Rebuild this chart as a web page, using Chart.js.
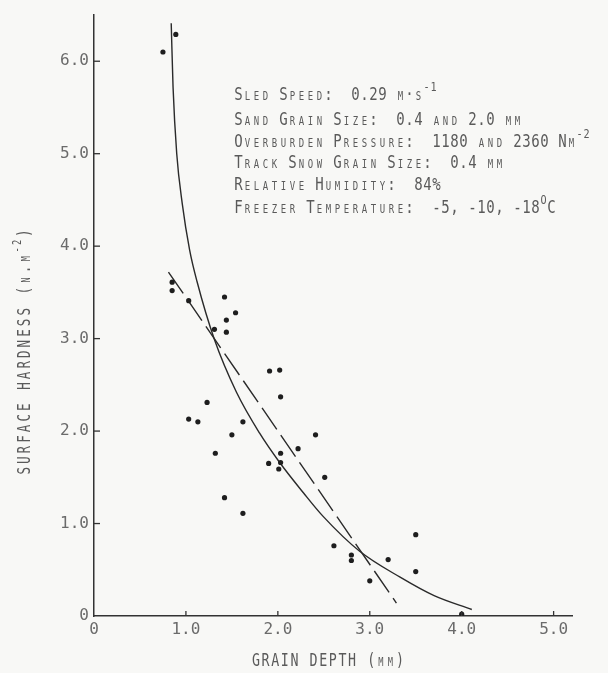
<!DOCTYPE html>
<html><head><meta charset="utf-8">
<script src="https://cdn.jsdelivr.net/npm/chart.js@4.4.1/dist/chart.umd.min.js"></script>
<style>html,body{margin:0;padding:0;background:#f8f8f6}#wrap{width:608px;height:673px;position:relative}</style>
</head><body><div id="wrap"><canvas id="c"></canvas></div>
<script>
// ---- data ----
const pointsX = [0.75,0.89,0.85,0.85,1.03,1.42,1.54,1.44,1.31,1.44,1.91,2.02,2.03,1.23,1.03,1.13,1.62,1.50,2.41,2.22,1.32,2.03,1.90,2.03,2.01,2.51,1.42,1.62,2.61,2.80,2.80,3.20,3.50,3.50,3.00,4.00];
const pointsY = [6.10,6.29,3.61,3.52,3.41,3.45,3.28,3.20,3.10,3.07,2.65,2.66,2.37,2.31,2.13,2.10,2.10,1.96,1.96,1.81,1.76,1.76,1.65,1.66,1.59,1.50,1.28,1.11,0.76,0.66,0.60,0.61,0.88,0.48,0.38,0.02];
const curveX = [0.84,0.86,0.90,0.96,1.04,1.12,1.31,1.55,1.80,2.02,2.28,2.49,2.89,3.33,3.70,4.11];
const curveY = [6.41,5.72,5.00,4.46,3.96,3.62,2.99,2.42,1.98,1.66,1.33,1.08,0.70,0.42,0.22,0.07];
const dashX = [0.81,3.29];
const dashY = [3.72,0.14];
const xTickValues = [0,1,2,3,4,5];
const xTickLabels = ['0','1.0','2.0','3.0','4.0','5.0'];
const yTickValues = [0,1,2,3,4,5,6];
const yTickLabels = ['0','1.0','2.0','3.0','4.0','5.0','6.0'];
const xTitle = 'GRAIN DEPTH (mm)';
const yTitle = 'SURFACE HARDNESS (n.m^{-2})';
const noteLines = [
  'Sled Speed:  0.29 m\u00b7s^{-1}',
  'Sand Grain Size:  0.4 and 2.0 mm',
  'Overburden Pressure:  1180 and 2360 Nm^{-2}',
  'Track Snow Grain Size:  0.4 mm',
  'Relative Humidity:  84%',
  'Freezer Temperature:  -5, -10, -18^{O}C'
];

const FONT = '"DejaVu Sans Mono", "Liberation Mono", monospace';
const TEXT_COLOR = '#5a5a5a';

function drawChar(ctx, ch, cx, y, size, sx) {
  ctx.save();
  ctx.font = size + 'px ' + FONT;
  ctx.textAlign = 'center';
  ctx.textBaseline = 'alphabetic';
  ctx.translate(cx, y);
  ctx.scale(sx, 1);
  ctx.fillText(ch, 0, 0);
  ctx.restore();
}
function scWidth(str, o) {
  let w = 0, i = 0;
  while (i < str.length) {
    if (str[i] === '^' && str[i+1] === '{') { const j = str.indexOf('}', i); w += (j - i - 2) * o.supAdv; i = j + 1; continue; }
    w += o.adv; i++;
  }
  return w;
}
function drawSC(ctx, str, x, y, o) {
  let cx = x, i = 0;
  while (i < str.length) {
    if (str[i] === '^' && str[i+1] === '{') {
      const j = str.indexOf('}', i);
      for (const ch of str.slice(i + 2, j)) { drawChar(ctx, ch, cx + o.supAdv / 2, y - o.supRaise, o.supSize, o.sx); cx += o.supAdv; }
      i = j + 1; continue;
    }
    const ch = str[i];
    const lower = ch >= 'a' && ch <= 'z';
    drawChar(ctx, lower ? ch.toUpperCase() : ch, cx + o.adv / 2, y, lower ? o.small : o.size, o.sx);
    cx += o.adv; i++;
  }
}

const noteStyle = {size: 18, small: 11.5, adv: 9, sx: 0.78, supSize: 13, supAdv: 7, supRaise: 9};

const decor = {
  id: 'decor',
  beforeDraw(chart) {
    const ctx = chart.ctx;
    ctx.save();
    ctx.fillStyle = '#f8f8f6';
    ctx.fillRect(0, 0, chart.width, chart.height);
    ctx.restore();
  },
  afterDraw(chart) {
    const ctx = chart.ctx;
    const xs = chart.scales.x, ys = chart.scales.y;
    const ca = chart.chartArea;
    ctx.save();
    // inward tick marks
    ctx.strokeStyle = '#333';
    ctx.lineWidth = 1.3;
    xTickValues.forEach(v => {
      if (v === 0) return;
      const px = xs.getPixelForValue(v);
      ctx.beginPath(); ctx.moveTo(px, ca.bottom); ctx.lineTo(px, ca.bottom - 5); ctx.stroke();
    });
    yTickValues.forEach(v => {
      if (v === 0) return;
      const py = ys.getPixelForValue(v);
      ctx.beginPath(); ctx.moveTo(ca.left, py); ctx.lineTo(ca.left + 6, py); ctx.stroke();
    });
    // annotation block
    ctx.fillStyle = TEXT_COLOR;
    const baselines = [100, 125, 147, 168, 190, 213];
    noteLines.forEach((s, k) => drawSC(ctx, s, 234, baselines[k], noteStyle));
    // x title
    const xo = {size: 17.5, small: 11.5, adv: 9.6, sx: 0.76, supSize: 12, supAdv: 7, supRaise: 8};
    const xw = scWidth(xTitle, xo);
    drawSC(ctx, xTitle, 328 - xw / 2, 666, xo);
    // y title (rotated)
    const yo = {size: 18, small: 12, adv: 10.6, sx: 0.7, supSize: 12.5, supAdv: 7.5, supRaise: 9};
    const yw = scWidth(yTitle, yo);
    ctx.translate(30, 352);
    ctx.rotate(-Math.PI / 2);
    drawSC(ctx, yTitle, -yw / 2, 0, yo);
    ctx.restore();
  }
};

const ctx = document.getElementById('c');
new Chart(ctx, {
  type: 'scatter',
  data: {
    datasets: [
      {
        label: 'measured',
        data: pointsX.map((x, i) => ({x, y: pointsY[i]})),
        pointRadius: 2.6, pointBackgroundColor: '#1e1e1e', pointBorderWidth: 0, showLine: false
      },
      {
        label: 'fit curve',
        data: curveX.map((x, i) => ({x, y: curveY[i]})),
        showLine: true, pointRadius: 0, borderColor: '#2a2a2a', borderWidth: 1.4,
        cubicInterpolationMode: 'monotone'
      },
      {
        label: 'linear fit',
        data: dashX.map((x, i) => ({x, y: dashY[i]})),
        showLine: true, pointRadius: 0, borderColor: '#2a2a2a', borderWidth: 1.4,
        borderDash: [26, 7]
      }
    ]
  },
  options: {
    responsive: true,
    maintainAspectRatio: false,
    animation: false,
    devicePixelRatio: 1,
    layout: {padding: {top: 15, right: 36, left: 0, bottom: 0}},
    plugins: {legend: {display: false}, tooltip: {enabled: false}},
    scales: {
      x: {
        type: 'linear', min: 0, max: 5.2,
        afterBuildTicks: s => { s.ticks = xTickValues.map(v => ({value: v})); },
        afterFit: s => { s.height = 57; },
        grid: {drawOnChartArea: false, drawTicks: false},
        border: {display: true, color: '#333', width: 1.5},
        ticks: {
          padding: 4, color: '#6b6b6b',
          font: {family: FONT, size: 16},
          callback: (v) => xTickLabels[xTickValues.indexOf(v)] ?? ''
        }
      },
      y: {
        type: 'linear', min: 0, max: 6.5,
        afterBuildTicks: s => { s.ticks = yTickValues.map(v => ({value: v})); },
        afterFit: s => { s.width = 94; },
        grid: {drawOnChartArea: false, drawTicks: false},
        border: {display: true, color: '#333', width: 1.5},
        ticks: {
          padding: 5, color: '#6b6b6b',
          font: {family: FONT, size: 16},
          callback: (v) => yTickLabels[yTickValues.indexOf(v)] ?? ''
        }
      }
    }
  },
  plugins: [decor]
});
</script>
</body></html>
